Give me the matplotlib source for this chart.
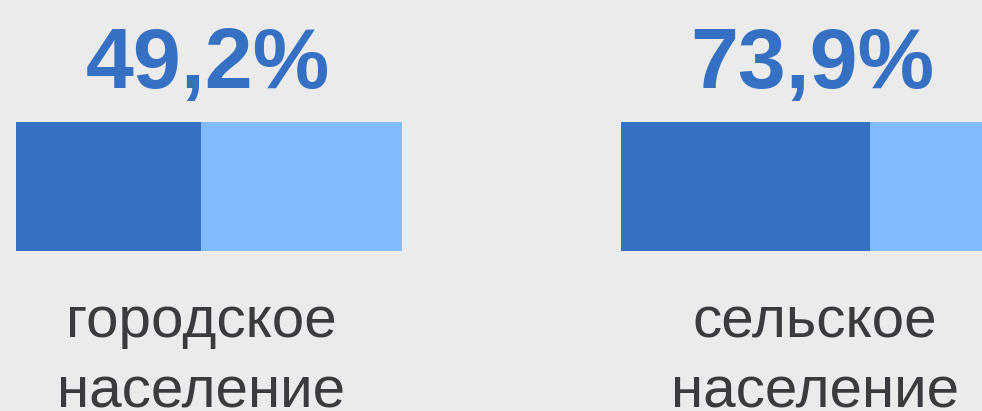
import matplotlib.pyplot as plt

# values
shares = ["49,2%", "73,9%"]
labels = ["городское\nнаселение", "сельское\nнаселение"]
bar_dark = [48.0, 64.5]   # dark segment length, % of bar (as drawn)
bar_total = [100, 100]

bg = "#ebebeb"
dark = "#3570c2"
light = "#80bbfc"
blue_txt = "#3570c3"
grey_txt = "#3a3b3f"

W, H = 982, 411
fig = plt.figure(figsize=(W / 100, H / 100), dpi=100, facecolor=bg)

lefts = [16, 621]   # px of bar start
bw = 386            # px bar width
label_x = [47.9, 50.3]

for i in range(2):
    ax = fig.add_axes([lefts[i] / W, 0, bw / W, 1])
    ax.set_facecolor("none")
    ax.set_xlim(0, 100)
    ax.set_ylim(H, 0)
    ax.axis("off")
    ax.barh(186.5, bar_total[i], height=129, left=0, color=light, linewidth=0)
    ax.barh(186.5, bar_dark[i], height=129, left=0, color=dark, linewidth=0)
    ax.text(49.6, 88, shares[i], ha="center", va="baseline", fontsize=62,
            fontweight="bold", family="Liberation Sans", color=blue_txt, clip_on=False)
    ax.text(label_x[i], 407, labels[i], ha="center", va="baseline", fontsize=42,
            family="Liberation Sans", color=grey_txt, linespacing=1.38,
            multialignment="center", clip_on=False)

fig.savefig("out.png", dpi=100, facecolor=bg)
